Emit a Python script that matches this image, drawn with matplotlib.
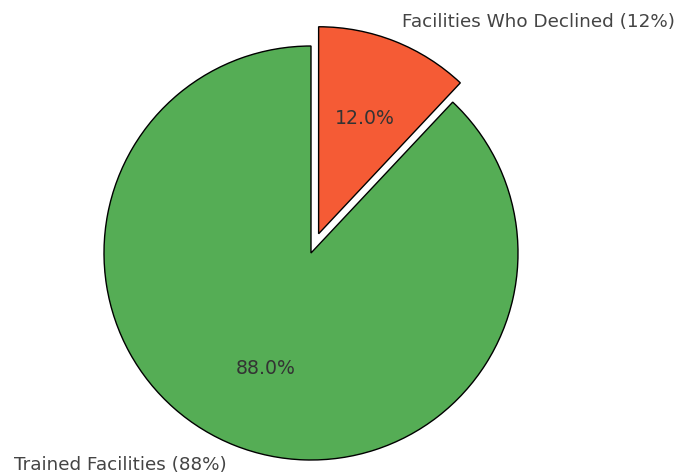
import matplotlib
matplotlib.use("agg")
import matplotlib.pyplot as plt

labels = ["Trained Facilities (88%)", "Facilities Who Declined (12%)"]
values = [88, 12]
colors = ["#55ad55", "#f55b35"]
explode = [0, 0.1]

fig = plt.figure(figsize=(6.81, 4.75), dpi=100)
ax = fig.add_axes([0, 0, 1, 1])

wedges, texts, autotexts = ax.pie(
    values,
    labels=labels,
    colors=colors,
    explode=explode,
    autopct="%1.1f%%",
    startangle=90,
    wedgeprops={"edgecolor": "black", "linewidth": 1},
    textprops={"fontsize": 13.2, "color": "#444444"},
)
for t in autotexts:
    t.set_color("#333333")
    t.set_fontsize(13.6)

# pie centre sits at (311, 253) px, radius ~207 px
r = 207.0
ax.set_xlim(-311 / r, (681 - 311) / r)
ax.set_ylim(-(475 - 253) / r, 253 / r)
ax.set_aspect("auto")
ax.axis("off")

fig.savefig("out.png", dpi=100)
plt.close(fig)
